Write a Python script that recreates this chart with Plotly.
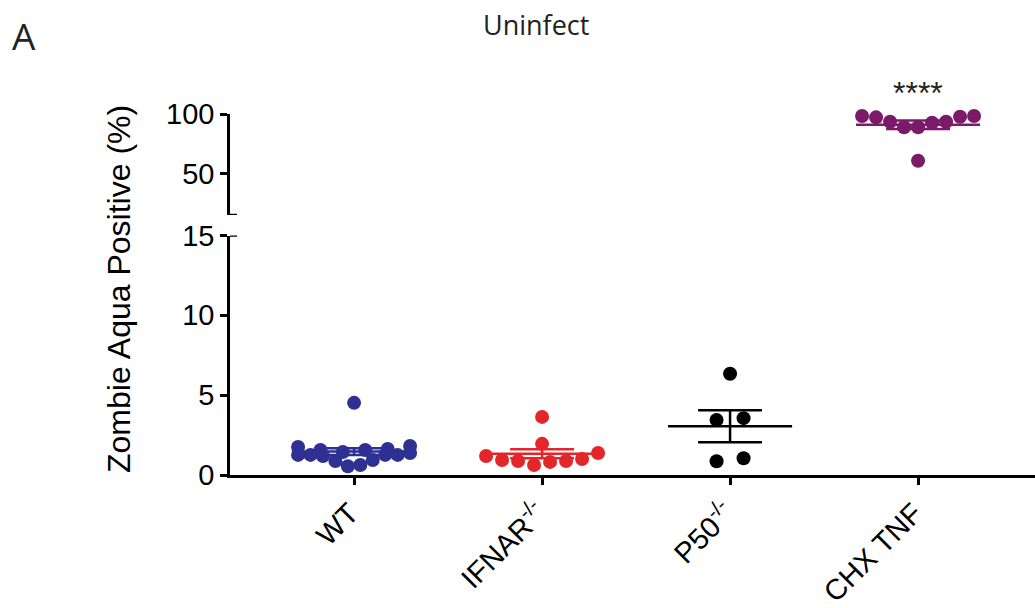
import numpy as np
import plotly.graph_objects as go

# ---- data -----------------------------------------------------------------
categories = ["WT", "IFNAR<sup>-/-</sup>", "P50<sup>-/-</sup>", "CHX TNF"]
wt_values = [1.44, 0.94, 1.63, 1.26, 1.38, 1.57, 0.55, 4.52, 1.26, 1.82,
             0.88, 1.26, 1.76, 0.63, 1.19, 1.26, 1.57]
ifnar_values = [1.95, 0.88, 1.38, 0.88, 1.19, 3.64, 0.63, 1.00, 0.82, 0.94]
p50_values = [3.45, 0.86, 6.34, 3.56, 1.05]
chx_tnf_values = [97.2, 98.3, 93.5, 88.8, 93.5, 88.8, 92.7, 97.7, 98.3, 60.6]

# ---- layout constants -----------------------------------------------------
W, H = 1035, 608
M_L, M_R, M_T, M_B = 230, 0, 114, 133
X_RANGE = [-0.66, 3.622]
LOW_RANGE, HIGH_RANGE = [0, 15], [15, 100]
LOW_DOMAIN, HIGH_DOMAIN = [0, 0.6634], [0.7202, 1]
FONT = "Liberation Sans, Arial, Helvetica, sans-serif"
LINE_W = 2.5
MARKER = 14
MEAN_HALF, SEM_HALF = 0.33, 0.17

colors = ["#2e3192", "#e3262a", "#000000", "#7a1a68"]

plot_w = W - M_L - M_R
plot_h = H - M_T - M_B
px_per_x = plot_w / (X_RANGE[1] - X_RANGE[0])
px_low = plot_h * (LOW_DOMAIN[1] - LOW_DOMAIN[0]) / (LOW_RANGE[1] - LOW_RANGE[0])
px_high = plot_h * (HIGH_DOMAIN[1] - HIGH_DOMAIN[0]) / (HIGH_RANGE[1] - HIGH_RANGE[0])


def row_scatter(vals, px_per_val, row_h=MARKER, max_step=27, max_width=112):
    """Scatter-dot offsets: points of similar value share a row, rows are
    spread across the column, lowest values of a row kept nearest the centre."""
    vals = np.asarray(vals, dtype=float)
    order = list(np.argsort(vals, kind="stable"))
    xs = np.zeros(len(vals))
    rows, cur = [], []
    for i in order:
        if cur and (vals[i] - vals[cur[0]]) * px_per_val >= row_h:
            rows.append(cur)
            cur = []
        cur.append(i)
    if cur:
        rows.append(cur)
    for row in rows:
        n = len(row)
        if n == 1:
            continue
        step = min(max_step, max_width / (n - 1))
        slots = [(k - (n - 1) / 2) * step for k in range(n)]
        slots.sort(key=lambda s: (round(abs(s), 6), s > 0))
        for idx, s in zip(row, slots):
            xs[idx] = s
    return xs / px_per_x


groups = [
    (wt_values, "y", px_low),
    (ifnar_values, "y", px_low),
    (p50_values, "y", px_low),
    (chx_tnf_values, "y2", px_high),
]

fig = go.Figure()
for i, (vals, yax, scale) in enumerate(groups):
    v = np.asarray(vals, dtype=float)
    off = row_scatter(v, scale)
    fig.add_trace(go.Scatter(
        x=i + off, y=v, mode="markers", yaxis=yax, cliponaxis=False,
        marker=dict(size=MARKER, color=colors[i], line=dict(width=0)),
        hoverinfo="y", showlegend=False))
    m = v.mean()
    s = v.std(ddof=1) / np.sqrt(len(v))
    fig.add_trace(go.Scatter(
        x=[i - MEAN_HALF, i + MEAN_HALF], y=[m, m], mode="lines", yaxis=yax,
        cliponaxis=False, line=dict(color=colors[i], width=LINE_W),
        hoverinfo="skip", showlegend=False))
    fig.add_trace(go.Scatter(
        x=[i - SEM_HALF, i + SEM_HALF, None, i, i, None, i - SEM_HALF, i + SEM_HALF],
        y=[m + s, m + s, None, m - s, m + s, None, m - s, m - s],
        mode="lines", yaxis=yax, cliponaxis=False,
        line=dict(color=colors[i], width=LINE_W),
        hoverinfo="skip", showlegend=False))

axis_common = dict(
    showline=True, linecolor="black", linewidth=LINE_W,
    ticks="outside", ticklen=7, tickwidth=LINE_W, tickcolor="black",
    showgrid=False, zeroline=False, automargin=False,
    tickfont=dict(family=FONT, size=29, color="black"),
)

fig.update_layout(
    width=W, height=H,
    margin=dict(l=M_L, r=M_R, t=M_T, b=M_B, autoexpand=False),
    paper_bgcolor="white", plot_bgcolor="white",
    showlegend=False,
    xaxis=dict(axis_common, range=X_RANGE, tickvals=[0, 1, 2, 3],
               ticktext=categories, tickangle=-45, anchor="y",
               ticklabelshift=-4),
    yaxis=dict(axis_common, domain=LOW_DOMAIN, range=LOW_RANGE,
               tickvals=[0, 5, 10, 15], anchor="x"),
    yaxis2=dict(axis_common, domain=HIGH_DOMAIN, range=HIGH_RANGE,
                tickvals=[50, 100], anchor="x"),
)

# caps marking the axis break
for yref, yv in (("y", LOW_RANGE[1]), ("y2", HIGH_RANGE[0])):
    fig.add_shape(type="line", xref="x", yref=yref, xsizemode="pixel",
                  xanchor=X_RANGE[0], x0=-7, x1=7, y0=yv, y1=yv,
                  line=dict(color="black", width=LINE_W))


def px_to_paper(px, py):
    return (px - M_L) / plot_w, (H - M_B - py) / plot_h


ax_x, ax_y = px_to_paper(119, 289)
fig.add_annotation(text="Zombie Aqua Positive (%)", xref="paper", yref="paper",
                   x=ax_x, y=ax_y, textangle=-90, showarrow=False,
                   xanchor="center", yanchor="middle",
                   font=dict(family=FONT, size=32, color="black"))

t_x, t_y = px_to_paper(536, 25)
fig.add_annotation(text="Uninfect", xref="paper", yref="paper", x=t_x, y=t_y,
                   showarrow=False, xanchor="center", yanchor="middle",
                   font=dict(family="Open Sans, sans-serif", size=27, color="#222"))

a_x, a_y = px_to_paper(24, 35)
fig.add_annotation(text="A", xref="paper", yref="paper", x=a_x, y=a_y,
                   showarrow=False, xanchor="center", yanchor="middle",
                   font=dict(family="Open Sans, sans-serif", size=37, color="#222"))

_, s_y = px_to_paper(0, 93)
fig.add_annotation(text="****", xref="x", yref="paper", x=3, y=s_y,
                   showarrow=False, xanchor="center", yanchor="middle",
                   font=dict(family=FONT, size=32, color="#222"))

fig.write_html("out.html")
